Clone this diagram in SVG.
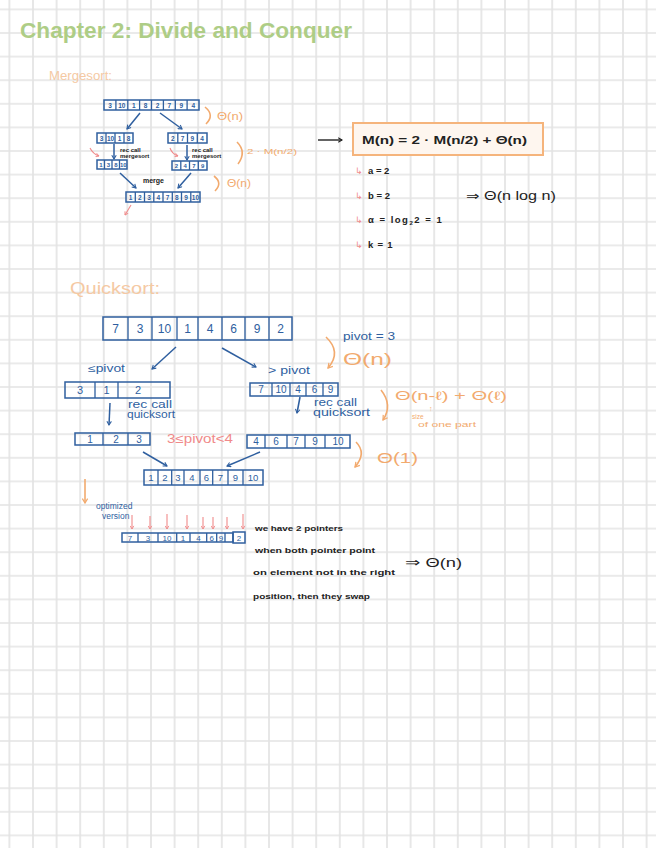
<svg xmlns="http://www.w3.org/2000/svg" width="656" height="848" viewBox="0 0 656 848">
<defs>
<pattern id="grid" x="-2.4" y="-2.4" width="23.6" height="23.6" patternUnits="userSpaceOnUse">
<path d="M11.8 0V23.6M0 11.8H23.6" stroke="#e4e4e4" stroke-width="1.7" fill="none"/>
</pattern>
<marker id="ab" viewBox="0 0 8 8" refX="6" refY="4" markerWidth="6" markerHeight="6" orient="auto" markerUnits="userSpaceOnUse">
<path d="M1,1 L6,4 L1,7" fill="none" stroke="#2f5f9f" stroke-width="1.4"/>
</marker>
<marker id="ao" viewBox="0 0 8 8" refX="6" refY="4" markerWidth="7" markerHeight="7" orient="auto" markerUnits="userSpaceOnUse">
<path d="M1,1 L6,4 L1,7" fill="none" stroke="#f2aa6e" stroke-width="1.4"/>
</marker>
<marker id="ar" viewBox="0 0 8 8" refX="6" refY="4" markerWidth="5" markerHeight="5" orient="auto" markerUnits="userSpaceOnUse">
<path d="M1,1 L6,4 L1,7" fill="none" stroke="#f08a8a" stroke-width="1.4"/>
</marker>
<marker id="ak" viewBox="0 0 8 8" refX="6" refY="4" markerWidth="6" markerHeight="6" orient="auto" markerUnits="userSpaceOnUse">
<path d="M1,1 L6,4 L1,7" fill="none" stroke="#222" stroke-width="1.4"/>
</marker>
</defs>
<style>
text{font-family:"Liberation Sans","DejaVu Sans",sans-serif}
.cell{fill:none;stroke:#2f5f9f;stroke-width:1.5}
.sep{stroke:#2f5f9f;stroke-width:1.3}
.d{fill:#2f5f9f;text-anchor:middle}
.blue{fill:#2f5f9f}
.or{fill:#f2aa6e}
.lor{fill:#f5c9a3}
.blk{fill:#222}
.pink{fill:#f08a8a}
.cb{stroke:#2f5f9f;stroke-width:1.5;fill:none;marker-end:url(#ab)}
.co{stroke:#f2aa6e;stroke-width:1.6;fill:none}
.cr{stroke:#f08a8a;stroke-width:1.1;fill:none;marker-end:url(#ar)}
</style>
<rect width="656" height="848" fill="#ffffff"/>
<rect width="656" height="848" fill="url(#grid)"/>

<g id="title">
<text x="20" y="38" font-size="22" font-weight="bold" fill="#aecd86" textLength="332" lengthAdjust="spacingAndGlyphs">Chapter 2: Divide and Conquer</text>
</g>

<g id="mergesort-label"><text x="49" y="80" font-size="12" class="lor" textLength="63" lengthAdjust="spacingAndGlyphs">Mergesort:</text></g>

<g id="ms-top">
<rect class="cell" x="104" y="100" width="95" height="10"/>
<path class="sep" d="M115.9 100V110M127.8 100V110M139.6 100V110M151.5 100V110M163.4 100V110M175.3 100V110M187.1 100V110"/>
<g font-size="6.5" font-weight="bold" class="d"><text x="110" y="107.5">3</text><text x="121.8" y="107.5">10</text><text x="133.7" y="107.5">1</text><text x="145.6" y="107.5">8</text><text x="157.5" y="107.5">2</text><text x="169.4" y="107.5">7</text><text x="181.3" y="107.5">9</text><text x="193.2" y="107.5">4</text></g>
</g>
<g id="ms-left">
<rect class="cell" x="97" y="133" width="36" height="10"/>
<path class="sep" d="M106 133V143M115 133V143M124 133V143"/>
<g font-size="6.5" font-weight="bold" class="d"><text x="101.5" y="140.5">3</text><text x="110.5" y="140.5">10</text><text x="119.5" y="140.5">1</text><text x="128.5" y="140.5">8</text></g>
</g>
<g id="ms-right">
<rect class="cell" x="168" y="133" width="39" height="10"/>
<path class="sep" d="M177.8 133V143M187.5 133V143M197.3 133V143"/>
<g font-size="6.5" font-weight="bold" class="d"><text x="172.9" y="140.5">2</text><text x="182.6" y="140.5">7</text><text x="192.4" y="140.5">9</text><text x="202.1" y="140.5">4</text></g>
</g>
<g id="ms-left-sorted">
<rect class="cell" x="97" y="160" width="30" height="9"/>
<path class="sep" d="M104.5 160V169M112 160V169M119.5 160V169"/>
<g font-size="6" font-weight="bold" class="d"><text x="100.8" y="167">1</text><text x="108.3" y="167">3</text><text x="115.8" y="167">8</text><text x="123.3" y="167">10</text></g>
</g>
<g id="ms-right-sorted">
<rect class="cell" x="172" y="161" width="35" height="9"/>
<path class="sep" d="M180.8 161V170M189.5 161V170M198.3 161V170"/>
<g font-size="6" font-weight="bold" class="d"><text x="176.4" y="168">2</text><text x="185.1" y="168">4</text><text x="193.9" y="168">7</text><text x="202.6" y="168">9</text></g>
</g>
<g id="ms-merged">
<rect class="cell" x="126" y="192" width="74" height="10"/>
<path class="sep" d="M135.3 192V202M144.5 192V202M153.8 192V202M163 192V202M172.3 192V202M181.5 192V202M190.8 192V202"/>
<g font-size="6.5" font-weight="bold" class="d"><text x="130.6" y="199.5">1</text><text x="139.9" y="199.5">2</text><text x="149.1" y="199.5">3</text><text x="158.4" y="199.5">4</text><text x="167.6" y="199.5">7</text><text x="176.9" y="199.5">8</text><text x="186.1" y="199.5">9</text><text x="195.4" y="199.5">10</text></g>
</g>
<g id="ms-labels" font-size="6" font-weight="bold" class="blk">
<text x="120" y="152">rec call</text><text x="120" y="158">mergesort</text>
<text x="192" y="152">rec call</text><text x="192" y="158">mergesort</text>
<text x="143" y="183" font-size="7">merge</text>
</g>
<g id="ms-complexity" class="or">
<text x="217" y="120" font-size="10" textLength="26" lengthAdjust="spacingAndGlyphs">Θ(n)</text>
<text x="247" y="154" font-size="8" textLength="50" lengthAdjust="spacingAndGlyphs">2 · M(n/2)</text>
<text x="227" y="187" font-size="10" textLength="24" lengthAdjust="spacingAndGlyphs">Θ(n)</text>
</g>

<g id="recurrence">
<rect x="353" y="123" width="190" height="32" fill="#fef6ef" stroke="#f5b47c" stroke-width="2"/>
<text x="362" y="143.5" font-size="11.5" font-weight="bold" class="blk" textLength="165" lengthAdjust="spacingAndGlyphs">M(n) = 2 · M(n/2) + Θ(n)</text>
</g>
<g id="master-items" font-size="9.5" font-weight="bold" class="blk">
<text x="368" y="174">a = 2</text>
<text x="368" y="199">b = 2</text>
<text x="368" y="223" letter-spacing="1.5">α = log<tspan font-size="6" dy="2">2</tspan><tspan dy="-2">2 = 1</tspan></text>
<text x="368" y="248" letter-spacing="0.8">k = 1</text>
</g>
<g id="master-bullets" font-size="9" class="pink">
<text x="355" y="174">↳</text><text x="355" y="199">↳</text><text x="355" y="223">↳</text><text x="355" y="248">↳</text>
</g>
<g id="ms-result"><text x="466" y="200" font-size="12.5" class="blk" textLength="90" lengthAdjust="spacingAndGlyphs">⇒ Θ(n log n)</text></g>

<g id="quicksort-label"><text x="70" y="294" font-size="16" class="lor" textLength="90" lengthAdjust="spacingAndGlyphs">Quicksort:</text></g>

<g id="qs-main">
<rect class="cell" x="103" y="317" width="189" height="23"/>
<path class="sep" d="M128 317V340M152 317V340M177 317V340M198 317V340M222 317V340M245 317V340M269 317V340"/>
<g font-size="12" class="d"><text x="115.5" y="333">7</text><text x="140" y="333">3</text><text x="164.5" y="333">10</text><text x="187.5" y="333">1</text><text x="210" y="333">4</text><text x="233.5" y="333">6</text><text x="257" y="333">9</text><text x="280.5" y="333">2</text></g>
</g>
<g id="qs-pivot">
<text x="343" y="340" font-size="11" class="blue" textLength="52" lengthAdjust="spacingAndGlyphs">pivot = 3</text>
<text x="343" y="365" font-size="17" class="or" textLength="49" lengthAdjust="spacingAndGlyphs">Θ(n)</text>
</g>
<g id="qs-left">
<rect class="cell" x="65" y="382" width="105" height="16"/>
<path class="sep" d="M95 382V398M118 382V398"/>
<g font-size="11" class="d"><text x="80" y="394">3</text><text x="106.5" y="394">1</text><text x="138" y="394">2</text></g>
</g>
<g id="qs-right">
<rect class="cell" x="250" y="383" width="88" height="13"/>
<path class="sep" d="M272 383V396M290 383V396M306 383V396M323 383V396"/>
<g font-size="10" class="d"><text x="261" y="393">7</text><text x="281" y="393">10</text><text x="298" y="393">4</text><text x="314.5" y="393">6</text><text x="330.5" y="393">9</text></g>
</g>
<g id="qs-labels" font-size="10" class="blue">
<text x="88" y="372" textLength="37" lengthAdjust="spacingAndGlyphs">≤pivot</text>
<text x="268" y="374" textLength="42" lengthAdjust="spacingAndGlyphs">&gt; pivot</text>
<text x="128" y="408" textLength="44" lengthAdjust="spacingAndGlyphs">rec call</text><text x="127" y="418" textLength="48" lengthAdjust="spacingAndGlyphs">quicksort</text>
<text x="314" y="406" textLength="43" lengthAdjust="spacingAndGlyphs">rec call</text><text x="313" y="416" textLength="57" lengthAdjust="spacingAndGlyphs">quicksort</text>
</g>
<g id="qs-rec-cost" class="or">
<text x="395" y="400" font-size="12" textLength="112" lengthAdjust="spacingAndGlyphs">Θ(n-ℓ) + Θ(ℓ)</text>
<text x="429" y="411" font-size="7">↑</text>
<text x="412" y="419" font-size="6.5">size</text>
<text x="418" y="427" font-size="7.5" textLength="58" lengthAdjust="spacingAndGlyphs">of one part</text>
</g>
<g id="qs-left-sorted">
<rect class="cell" x="75" y="433" width="75" height="12"/>
<path class="sep" d="M103 433V445M128 433V445"/>
<g font-size="10" class="d"><text x="90" y="443">1</text><text x="116" y="443">2</text><text x="139" y="443">3</text></g>
</g>
<g id="qs-cond"><text x="167" y="443" font-size="12.5" class="pink" textLength="66" lengthAdjust="spacingAndGlyphs">3≤pivot&lt;4</text></g>
<g id="qs-right-sorted">
<rect class="cell" x="247" y="435" width="103" height="13"/>
<path class="sep" d="M265 435V448M287 435V448M305 435V448M325 435V448"/>
<g font-size="10" class="d"><text x="256" y="445">4</text><text x="276" y="445">6</text><text x="296" y="445">7</text><text x="315" y="445">9</text><text x="338" y="445">10</text></g>
</g>
<g id="qs-const"><text x="377" y="463" font-size="15" class="or" textLength="41" lengthAdjust="spacingAndGlyphs">Θ(1)</text></g>
<g id="qs-merged">
<rect class="cell" x="144" y="470" width="119" height="15"/>
<path class="sep" d="M158 470V485M171.7 470V485M184 470V485M200 470V485M212.7 470V485M228 470V485M243 470V485"/>
<g font-size="9.5" class="d"><text x="151" y="481">1</text><text x="165" y="481">2</text><text x="178" y="481">3</text><text x="192" y="481">4</text><text x="206.5" y="481">6</text><text x="220.5" y="481">7</text><text x="235.5" y="481">9</text><text x="253" y="481">10</text></g>
</g>
<g id="optimized-label" font-size="8.5" class="blue">
<text x="96" y="509">optimized</text><text x="102" y="519">version</text>
</g>
<g id="qs-optimized">
<rect class="cell" x="122" y="533" width="111" height="9"/>
<rect class="cell" x="233" y="532" width="12" height="11"/>
<path class="sep" d="M138 533V542M158 533V542M176.7 533V542M190 533V542M206.7 533V542M216.7 533V542M225 533V542"/>
<g font-size="8" class="d"><text x="130" y="540.5">7</text><text x="148" y="540.5">3</text><text x="167" y="540.5">10</text><text x="183" y="540.5">1</text><text x="198.5" y="540.5">4</text><text x="211.7" y="540.5">6</text><text x="221" y="540.5">9</text><text x="239" y="540.5">2</text></g>
</g>
<g id="qs-notes" font-size="8" font-weight="bold" class="blk">
<text x="255" y="531" textLength="88" lengthAdjust="spacingAndGlyphs">we have 2 pointers</text>
<text x="255" y="553" textLength="120" lengthAdjust="spacingAndGlyphs">when both pointer point</text>
<text x="253" y="575" textLength="142" lengthAdjust="spacingAndGlyphs">on element not in the right</text>
<text x="253" y="599" textLength="117" lengthAdjust="spacingAndGlyphs">position, then they swap</text>
<text x="405" y="567" font-size="13" font-weight="normal" textLength="57" lengthAdjust="spacingAndGlyphs">⇒ Θ(n)</text>
</g>

<g id="connectors">
<path class="cb" d="M140 113L127 129"/>
<path class="cb" d="M160 113L182 129"/>
<path class="cb" d="M114 144V159"/>
<path class="cb" d="M187 145V160"/>
<path class="cb" d="M120 173L136 188"/>
<path class="cb" d="M191 173L178 188"/>
<path class="co" d="M205 107Q215 115 206 124"/>
<path class="co" d="M237 142Q247 152 238 164"/>
<path class="co" d="M214 176Q223 183 215 191"/>
<path class="cr" d="M90 148Q93 154 99 156"/>
<path class="cr" d="M170 148Q172 154 178 156"/>
<path class="cr" d="M131 205L125 215"/>
<path d="M318 140H342" stroke="#222" stroke-width="1.4" fill="none" marker-end="url(#ak)"/>
<path class="cb" d="M176 347L152 369"/>
<path class="cb" d="M222 348L256 367"/>
<path class="cb" d="M110 403L109 425"/>
<path class="cb" d="M300 397L297 413"/>
<path class="cb" d="M143 452L167 466"/>
<path class="cb" d="M260 452L227 466"/>
<path class="co" d="M326 337Q342 352 328 368" marker-end="url(#ao)"/>
<path class="co" d="M381 390Q393 405 383 420" marker-end="url(#ao)"/>
<path class="co" d="M356 442Q367 453 355 467" marker-end="url(#ao)"/>
<path class="co" d="M85 479V503" marker-end="url(#ao)"/>
<path class="cr" d="M132 515V529"/>
<path class="cr" d="M150 516V529"/>
<path class="cr" d="M167 514V529"/>
<path class="cr" d="M187 515V529"/>
<path class="cr" d="M203 517V529"/>
<path class="cr" d="M213 517V529"/>
<path class="cr" d="M227 517V529"/>
<path class="cr" d="M243 514V529"/>
</g>
</svg>
